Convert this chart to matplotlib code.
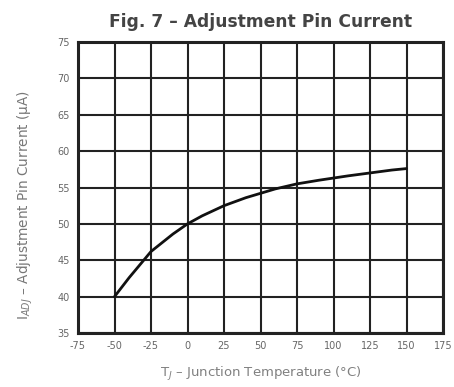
import matplotlib
matplotlib.use("Agg")
import matplotlib.pyplot as plt

plt.rcParams["font.family"] = ["DejaVu Sans"]

# Adjustment pin current vs. junction temperature
temp_c = [-50, -40, -25, -10, 0, 10, 25, 40, 50, 60, 75, 90, 100, 110, 125, 140, 150]
i_adj_ua = [40.0, 42.6, 46.2, 48.6, 50.0, 51.1, 52.5, 53.6, 54.2, 54.8, 55.5, 56.0, 56.3, 56.6, 57.0, 57.4, 57.6]

x_ticks = [-75, -50, -25, 0, 25, 50, 75, 100, 125, 150, 175]
y_ticks = [35, 40, 45, 50, 55, 60, 65, 70, 75]

fig = plt.figure(figsize=(4.54, 3.87), dpi=100)
ax = fig.add_axes([78 / 454, 1 - 333 / 387, (443 - 78) / 454, (333 - 42) / 387])

ax.plot(temp_c, i_adj_ua, color="#111111", lw=2.0, solid_capstyle="round")

ax.set_xlim(-75, 175)
ax.set_ylim(35, 75)
ax.set_xticks(x_ticks)
ax.set_yticks(y_ticks)
ax.set_xticklabels([str(t) for t in x_ticks], fontsize=7, color="#666666")
ax.set_yticklabels([str(t) for t in y_ticks], fontsize=7, color="#666666")
ax.tick_params(length=0, pad=6)
ax.grid(True, color="#222222", lw=1.5)
for s in ax.spines.values():
    s.set_linewidth(2.2)
    s.set_color("#222222")

ax.set_title("Fig. 7 – Adjustment Pin Current", fontsize=12.3, fontweight="bold",
             color="#444444", pad=11)
ax.set_xlabel("T$_J$ – Junction Temperature (°C)", fontsize=9.5, color="#808080", labelpad=10)
fig.text(25 / 454, 1 - 205 / 387, "I$_{ADJ}$ – Adjustment Pin Current (μA)",
         rotation=90, ha="center", va="center", fontsize=9.8, color="#777777")

fig.savefig("out.png", dpi=100)
